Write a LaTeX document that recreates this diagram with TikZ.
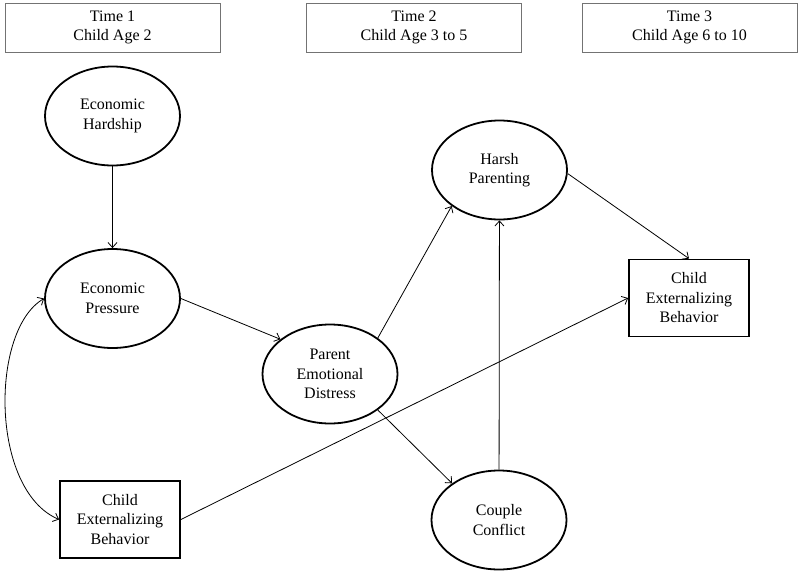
\documentclass[tikz,border=0pt]{standalone}
\usepackage{fontspec}
\setmainfont{Liberation Serif}
\usepackage{tikz}
\usetikzlibrary{shapes.geometric,arrows.meta,positioning}

\begin{document}
\begin{tikzpicture}[x=1pt,y=1pt,yscale=-1,
  timebox/.style={draw=black!55,line width=0.8pt,minimum width=215,minimum height=49,inner sep=0,align=center,font=\fontsize{16}{19.5}\selectfont},
  latent/.style={draw,ellipse,line width=1.8pt,minimum width=135,minimum height=99,inner sep=0,align=center,font=\fontsize{16}{19.5}\selectfont},
  observed/.style={draw,rectangle,line width=1.8pt,minimum width=120,minimum height=77,inner sep=0,align=center,font=\fontsize{16}{19.5}\selectfont},
  path/.style={-{Straight Barb[length=5pt,width=9pt]},line width=0.8pt},
  covar/.style={{Straight Barb[length=5pt,width=9pt]}-{Straight Barb[length=5pt,width=9pt]},line width=0.8pt}]
\useasboundingbox (0,0) rectangle (800,573);

%Header boxes
\node (time1) at (112.5,27.5) [timebox] {Time 1\\Child Age 2};
\node (time2) at (414,27.5) [timebox] {Time 2\\Child Age 3 to 5};
\node (time3) at (689.5,27.5) [timebox] {Time 3\\Child Age 6 to 10};

%Ellipses
\node (hard) at (112.5,116) [latent] {Economic\\Hardship};
\node (press) at (112.5,298.5) [latent] {Economic\\Pressure};
\node (ped) at (330,374) [latent] {Parent\\Emotional\\Distress};
\node (harsh) at (499.5,170) [latent] {Harsh\\Parenting};
\node (couple) at (499,520) [latent] {Couple\\Conflict};

%Rectangles
\node (cebl) at (120,519.5) [observed] {Child\\Externalizing\\Behavior};
\node (cebr) at (689,298) [observed] {Child\\Externalizing\\Behavior};

%Paths
\draw[path] (hard) -- (press);
\draw[path] (press.east) -- (ped.145);
\draw[path] (ped.37) -- (harsh.217);
\draw[path] (ped.-37) -- (couple.142);
\draw[path] (couple) -- (harsh);
\draw[path] (harsh.-3) -- (cebr.north);
\draw[path] (cebl.east) -- (cebr.west);

%Covariance
\draw[covar] (press.west) .. controls (-10,330) and (-10,490) .. (cebl.west);
\end{tikzpicture}
\end{document}
